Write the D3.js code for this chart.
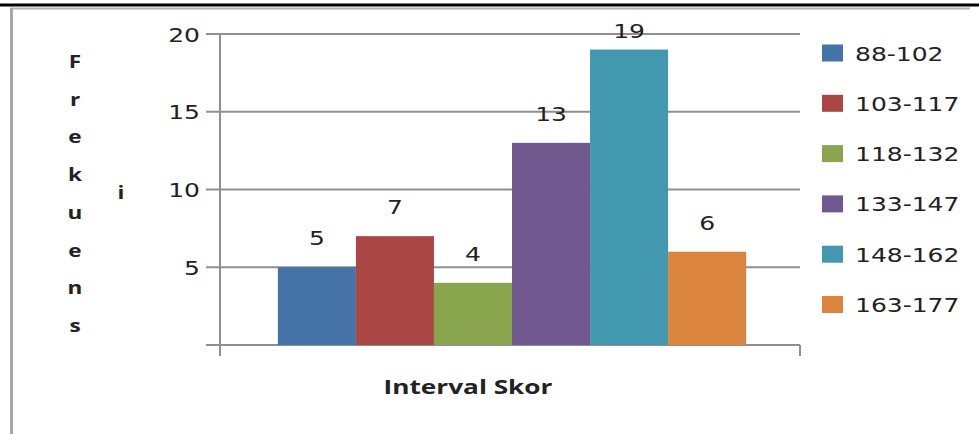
<!DOCTYPE html>
<html>
<head>
<meta charset="utf-8">
<script src="https://cdn.jsdelivr.net/npm/d3@7"></script>
<style>
  html, body { margin: 0; padding: 0; background: #fff; }
  svg { display: block; }
</style>
</head>
<body>
<svg id="chart" width="979" height="434"></svg>
<script>
// Frequency distribution of scores
const categories = ["88-102", "103-117", "118-132", "133-147", "148-162", "163-177"];
const values = [5, 7, 4, 13, 19, 6];
const colors = ["#4572A7", "#AA4643", "#89A54E", "#71588F", "#4198AF", "#DB843D"];
const yTicks = [5, 10, 15, 20];
const xTitle = "Interval Skor";
const yTitleCol1 = ["F", "r", "e", "k", "u", "e", "n", "s"];
const yTitleCol2 = ["i"];

const svg = d3.select("#chart");
const W = 979, H = 434;
const plot = { left: 220, right: 800, top: 34, bottom: 345 };
const stretch = 1.25; // wide glyph rendering of all text
const textColor = "#222";
const gridColor = "#8f8f8f";

// frame
svg.append("rect").attr("x", 0).attr("y", 0).attr("width", W).attr("height", H).attr("fill", "#fff");
svg.append("line").attr("x1", 0).attr("x2", W).attr("y1", 5).attr("y2", 5)
  .attr("stroke", "#000").attr("stroke-width", 3);
svg.append("line").attr("x1", 10).attr("x2", 970).attr("y1", 8.5).attr("y2", 8.5)
  .attr("stroke", "#b4b4b4").attr("stroke-width", 2);
svg.append("line").attr("x1", 11.5).attr("x2", 11.5).attr("y1", 8).attr("y2", H)
  .attr("stroke", "#a8a8a8").attr("stroke-width", 3);

const y = d3.scaleLinear().domain([0, 20]).range([plot.bottom, plot.top]);
const xOuter = d3.scaleBand().domain([xTitle]).range([plot.left + 4, plot.right])
  .paddingInner(0).paddingOuter(0.115);
const xInner = d3.scaleBand().domain(categories)
  .range([xOuter(xTitle), xOuter(xTitle) + xOuter.bandwidth()]).padding(0);

function wideText(g, x, yy, str, anchor) {
  return g.append("text")
    .attr("transform", `translate(${x},${yy}) scale(${stretch},1)`)
    .attr("text-anchor", anchor || "start")
    .text(str);
}

// gridlines with outside ticks
const grid = svg.append("g");
grid.selectAll("line").data([0].concat(yTicks)).join("line")
  .attr("x1", plot.left - 14).attr("x2", plot.right)
  .attr("y1", d => y(d)).attr("y2", d => y(d))
  .attr("stroke", gridColor).attr("stroke-width", 2);

// y tick labels
const yl = svg.append("g").attr("font-family", "DejaVu Sans, Verdana, sans-serif")
  .attr("font-size", 20).attr("fill", textColor);
yTicks.forEach(t => wideText(yl, 200, y(t) + 7.5, String(t), "end"));

// bars
svg.append("g").selectAll("rect").data(values).join("rect")
  .attr("x", (d, i) => xInner(categories[i]))
  .attr("width", xInner.bandwidth())
  .attr("y", d => y(d))
  .attr("height", d => y(0) - y(d))
  .attr("fill", (d, i) => colors[i]);

// axes lines
svg.append("line").attr("x1", plot.left).attr("x2", plot.left)
  .attr("y1", plot.top).attr("y2", plot.bottom + 11)
  .attr("stroke", gridColor).attr("stroke-width", 2);
svg.append("line").attr("x1", plot.right).attr("x2", plot.right)
  .attr("y1", plot.bottom).attr("y2", plot.bottom + 11)
  .attr("stroke", gridColor).attr("stroke-width", 2);

// value labels
const vl = svg.append("g").attr("font-family", "DejaVu Sans, Verdana, sans-serif")
  .attr("font-size", 20).attr("fill", textColor);
values.forEach((v, i) => {
  const cx = xInner(categories[i]) + xInner.bandwidth() / 2;
  wideText(vl, cx, Math.max(y(v) - 22, 38), String(v), "middle");
});

// axis titles
const titles = svg.append("g").attr("font-family", "Open Sans, Liberation Sans, sans-serif")
  .attr("font-weight", "bold").attr("fill", textColor);
titles.append("text")
  .attr("x", (plot.left + plot.right) / 2 - 42).attr("y", 394)
  .attr("font-size", 19).attr("text-anchor", "middle")
  .attr("textLength", 169).attr("lengthAdjust", "spacingAndGlyphs")
  .text(xTitle);
yTitleCol1.forEach((ch, i) => {
  wideText(titles, 75, 68 + i * 37.7, ch, "middle").attr("font-size", 18);
});
yTitleCol2.forEach((ch, i) => {
  wideText(titles, 121, 199 + i * 37.7, ch, "middle").attr("font-size", 18);
});

// legend
const legend = svg.append("g").attr("font-family", "DejaVu Sans, Verdana, sans-serif")
  .attr("font-size", 20).attr("fill", textColor);
categories.forEach((c, i) => {
  const cy = 53 + i * 50.3;
  legend.append("rect").attr("x", 822).attr("y", cy - 8.5).attr("width", 21).attr("height", 17)
    .attr("fill", colors[i]);
  wideText(legend, 855, cy + 7.5, c, "start");
});
</script>
</body>
</html>
